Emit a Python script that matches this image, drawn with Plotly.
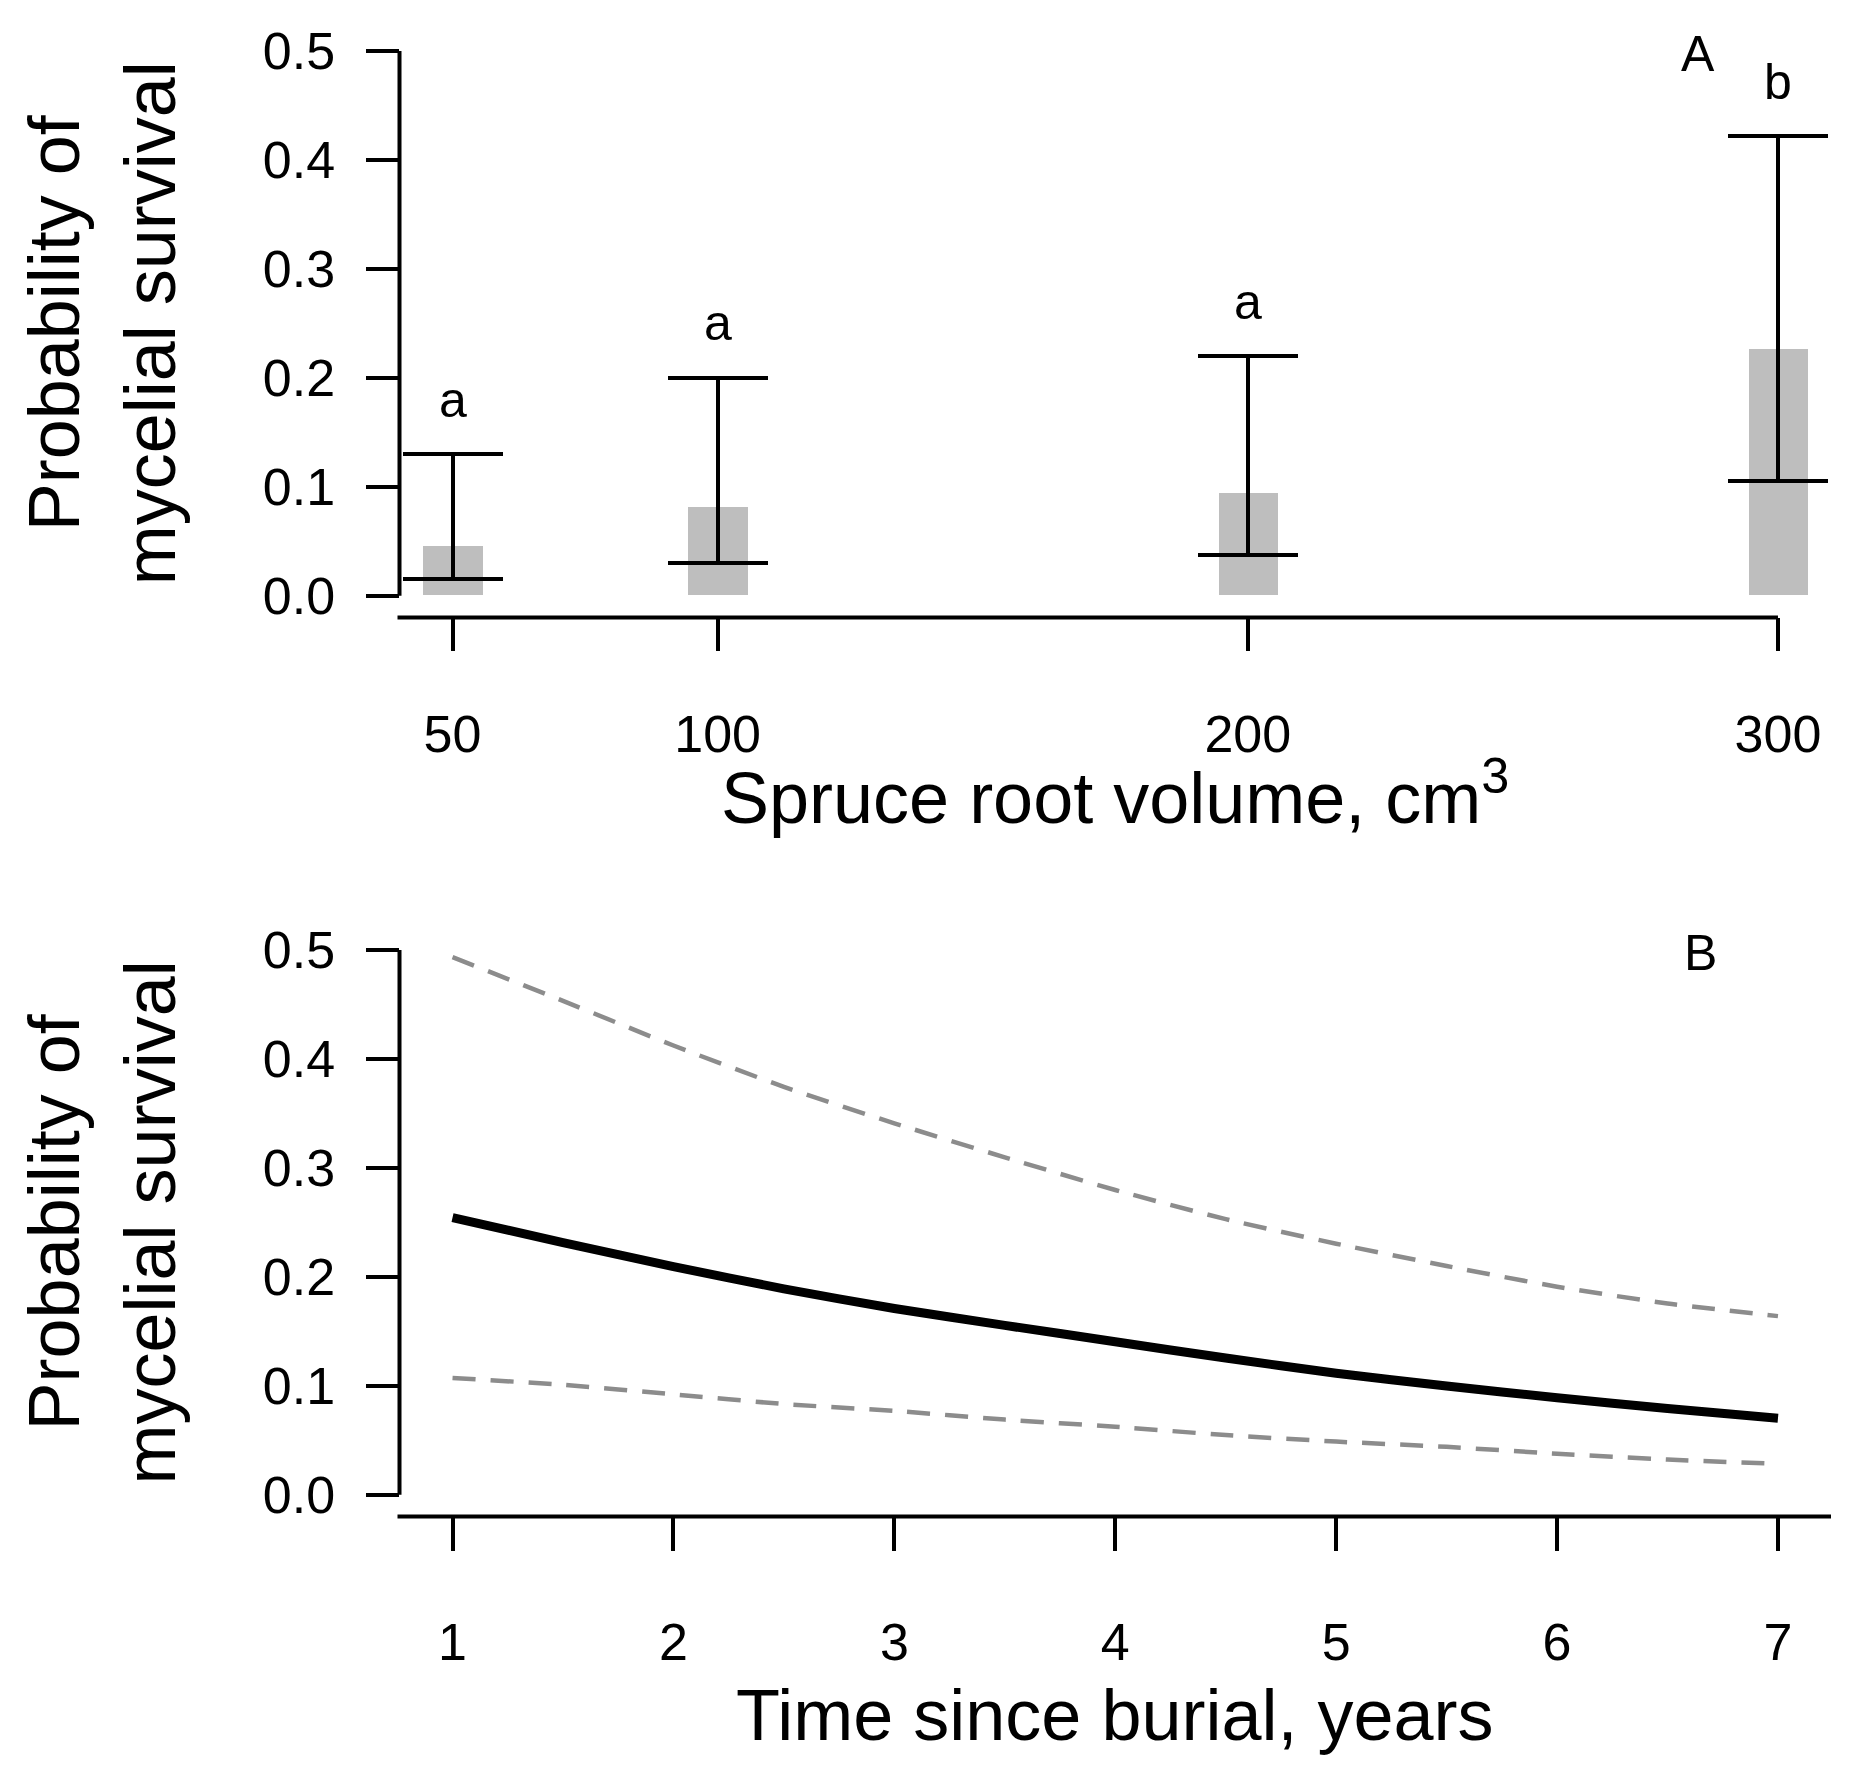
import plotly.graph_objects as go

# ---------------- data ----------------
# Panel A
root_volume = [50, 100, 200, 300]
surv_prob = [0.045, 0.081, 0.094, 0.226]
ci_low = [0.015, 0.030, 0.037, 0.105]
ci_high = [0.130, 0.200, 0.220, 0.422]
group_letters = ["a", "a", "a", "b"]

# Panel B
years = [1, 1.5, 2, 2.5, 3, 3.5, 4, 4.5, 5, 5.5, 6, 6.5, 7]
fit_mean = [0.2545, 0.2315, 0.2095, 0.1890, 0.1710, 0.1555, 0.1405,
            0.1255, 0.1115, 0.0998, 0.0890, 0.0792, 0.0702]
fit_upper = [0.4935, 0.4534, 0.4124, 0.3745, 0.3410, 0.3098, 0.2798,
             0.2530, 0.2305, 0.2100, 0.1910, 0.1756, 0.1640]
fit_lower = [0.1073, 0.1009, 0.0922, 0.0833, 0.0770, 0.0690, 0.0624,
             0.0548, 0.0488, 0.0440, 0.0376, 0.0323, 0.0284]

y_ticks = [0.0, 0.1, 0.2, 0.3, 0.4, 0.5]
y_ticktext = ["0.0", "0.1", "0.2", "0.3", "0.4", "0.5"]
xa_ticks = [50, 100, 200, 300]
xb_ticks = [1, 2, 3, 4, 5, 6, 7]

# ---------------- layout geometry ----------------
W, H = 1852, 1784
FONT = "Liberation Sans"
xdom = [399.5 / W, 1831 / W]
ydom_a = [1 - 615.3 / H, 1 - 22.4 / H]
ydom_b = [1 - 1521.5 / H, 1 - 928.6 / H]
yrange = [-0.02, 0.52]
xrange_a = [40, 310]
xrange_b = [0.76, 7.24]

LW = 4  # axis line width


def ypaper(v, dom):
    return dom[0] + (v - yrange[0]) / (yrange[1] - yrange[0]) * (dom[1] - dom[0])


def xpaper(v, rng):
    return xdom[0] + (v - rng[0]) / (rng[1] - rng[0]) * (xdom[1] - xdom[0])


fig = go.Figure()

# Panel A bars with CI error bars
upper_err = [h - m for h, m in zip(ci_high, surv_prob)]
lower_err = [m - l for m, l in zip(surv_prob, ci_low)]
fig.add_trace(go.Bar(
    x=root_volume, y=surv_prob, width=11.2,
    marker=dict(color="#BEBEBE", line=dict(width=0)),
    error_y=dict(type="data", symmetric=False, array=upper_err,
                 arrayminus=lower_err, color="black", thickness=LW, width=50),
    xaxis="x", yaxis="y", showlegend=False,
))

# Panel B curves
dash_line = dict(color="#8C8C8C", width=4.5, dash="23px,15px", shape="spline", smoothing=0.6)
fig.add_trace(go.Scatter(x=years, y=fit_upper, mode="lines", line=dash_line,
                         xaxis="x2", yaxis="y2", showlegend=False))
fig.add_trace(go.Scatter(x=years, y=fit_lower, mode="lines", line=dash_line,
                         xaxis="x2", yaxis="y2", showlegend=False))
fig.add_trace(go.Scatter(
    x=years, y=fit_mean, mode="lines",
    line=dict(color="black", width=9, shape="spline", smoothing=0.6),
    xaxis="x2", yaxis="y2", showlegend=False,
))

tickfont = dict(family=FONT, size=52, color="black")
axis_common = dict(
    showgrid=False, zeroline=False, showline=False,
    ticks="outside", ticklen=33, tickwidth=LW, tickcolor="black",
    tickfont=tickfont, fixedrange=True,
)

fig.update_layout(
    width=W, height=H,
    margin=dict(l=0, r=0, t=0, b=0),
    paper_bgcolor="white", plot_bgcolor="white",
    font=dict(family=FONT, color="black"),
    xaxis=dict(domain=xdom, range=xrange_a, tickvals=xa_ticks,
               anchor="y", ticklabelstandoff=38, **axis_common),
    yaxis=dict(domain=ydom_a, range=yrange, tickvals=y_ticks, ticktext=y_ticktext,
               anchor="x", ticklabelstandoff=20, **axis_common),
    xaxis2=dict(domain=xdom, range=xrange_b, tickvals=xb_ticks,
                anchor="y2", ticklabelstandoff=47, **axis_common),
    yaxis2=dict(domain=ydom_b, range=yrange, tickvals=y_ticks, ticktext=y_ticktext,
                anchor="x2", ticklabelstandoff=20, **axis_common),
    bargap=0,
)

# axis lines (R style)
shapes = []
for dom, rng, xend in [(ydom_a, xrange_a, 300), (ydom_b, xrange_b, xrange_b[1])]:
    x0 = xdom[0]
    shapes.append(dict(type="line", xref="paper", yref="paper",
                       x0=x0, x1=x0, y0=ypaper(0, dom), y1=ypaper(0.5, dom),
                       line=dict(color="black", width=LW)))
    shapes.append(dict(type="line", xref="paper", yref="paper",
                       x0=x0 - 2 / W, x1=xpaper(xend, rng),
                       y0=dom[0], y1=dom[0],
                       line=dict(color="black", width=LW)))
fig.update_layout(shapes=shapes)

ann = []
small_font = dict(family=FONT, size=50, color="black")
for xv, hi, lab in zip(root_volume, ci_high, group_letters):
    ann.append(dict(x=xv, y=hi + 0.05, xref="x", yref="y", text=lab,
                    showarrow=False, xanchor="center", yanchor="middle",
                    font=small_font))
ann.append(dict(x=285, y=0.5, xref="x", yref="y", text="A", showarrow=False,
                xanchor="center", yanchor="middle", yshift=-3, font=small_font))
ann.append(dict(x=6.65, y=0.5, xref="x2", yref="y2", text="B", showarrow=False,
                xanchor="center", yanchor="middle", yshift=-3, font=small_font))

title_font = dict(family=FONT, size=72, color="black")
xc = (xdom[0] + xdom[1]) / 2
ann.append(dict(x=xc, y=1 - 792 / H, xref="paper", yref="paper",
                text="Spruce root volume, cm<sup>3</sup>", showarrow=False,
                xanchor="center", yanchor="middle", font=title_font))
ann.append(dict(x=xc, y=1 - 1722 / H, xref="paper", yref="paper",
                text="Time since burial, years", showarrow=False,
                xanchor="center", yanchor="middle", font=title_font))
for dom in (ydom_a, ydom_b):
    yc = ypaper(0.25, dom)
    ann.append(dict(x=54 / W, y=yc, xref="paper", yref="paper",
                    text="Probability of", textangle=-90, showarrow=False,
                    xanchor="center", yanchor="middle", font=title_font))
    ann.append(dict(x=150 / W, y=yc, xref="paper", yref="paper",
                    text="mycelial survival", textangle=-90, showarrow=False,
                    xanchor="center", yanchor="middle", font=title_font))
fig.update_layout(annotations=ann)

fig.write_html(
    "out.html",
    config={"displayModeBar": False},
    post_script="document.body.style.margin='0';document.body.style.padding='0';"
                "document.body.style.overflow='hidden';",
)
